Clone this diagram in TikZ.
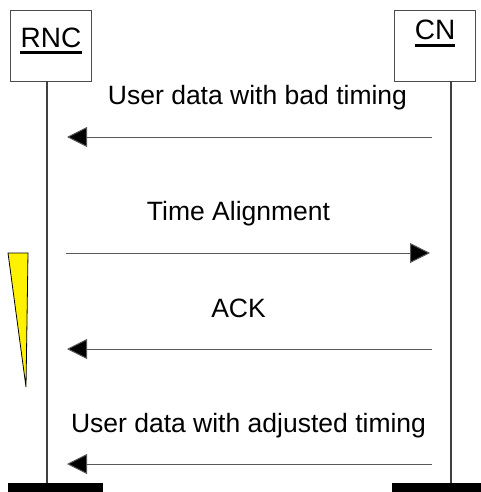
\documentclass[tikz,border=0pt]{standalone}
\usepackage{fontspec}
\setmainfont{Liberation Sans}
\usepackage{tikz}
\usetikzlibrary{calc}
\usetikzlibrary{arrows.meta}

\begin{document}
\begin{tikzpicture}[x=1pt, y=-1pt,
  entity/.style={draw=black!70, line width=.8pt, minimum width=81pt, minimum height=71pt, inner sep=0},
  elabel/.style={font=\fontsize{28}{28}\selectfont, inner sep=0, anchor=base},
  lifeline/.style={draw=black!75, line width=1.2pt},
  msg/.style={draw=black!65, line width=1pt, -{Triangle[length=20pt,width=20pt,fill=black]}},
  mlabel/.style={font=\fontsize{26.5}{26.5}\selectfont, inner sep=0, anchor=base}]
\useasboundingbox (0,0) rectangle (481,492);
% entities
\node[entity] (rnc) at (50.5,45.5) {};
\node[entity] (cn) at (434.5,45.5) {};
\node[elabel] (rnctxt) at (51,48) {RNC};
\node[elabel] (cntxt) at (435,40) {CN};
\draw[line width=3pt] ($(rnctxt.base west)+(0,5)$) -- ($(rnctxt.base east)+(0,5)$);
\draw[line width=3pt] ($(cntxt.base west)+(0,6)$) -- ($(cntxt.base east)+(0,6)$);
% life lines
\coordinate (rncend) at (47,483);
\coordinate (cnend) at (451,483);
\draw[lifeline] (rnc.south -| rncend) -- (rncend);
\draw[lifeline] (cn.south -| cnend) -- (cnend);
\fill[black] (8,483) rectangle (103,492);
\fill[black] (392,483) rectangle (481,492);
% messages
\coordinate (a1) at (432,137); \coordinate (b1) at (67,137);
\coordinate (a2) at (66,253);  \coordinate (b2) at (430,253);
\coordinate (a3) at (432,349); \coordinate (b3) at (67,349);
\coordinate (a4) at (432,464); \coordinate (b4) at (67,464);
\draw[msg] (a1) -- (b1);
\draw[msg] (a2) -- (b2);
\draw[msg] (a3) -- (b3);
\draw[msg] (a4) -- (b4);
\node[mlabel] (m1) at (257.5,105) {User data with bad timing};
\node[mlabel] (m2) at (238.5,220) {Time Alignment};
\node[mlabel] (m3) at (238.5,317) {ACK};
\node[mlabel] (m4) at (248.5,432) {User data with adjusted timing};
% timer wedge
\filldraw[fill=yellow, draw=black, line width=.8pt] (8,253) -- (28,253) -- (26,387) -- cycle;
\end{tikzpicture}
\end{document}
